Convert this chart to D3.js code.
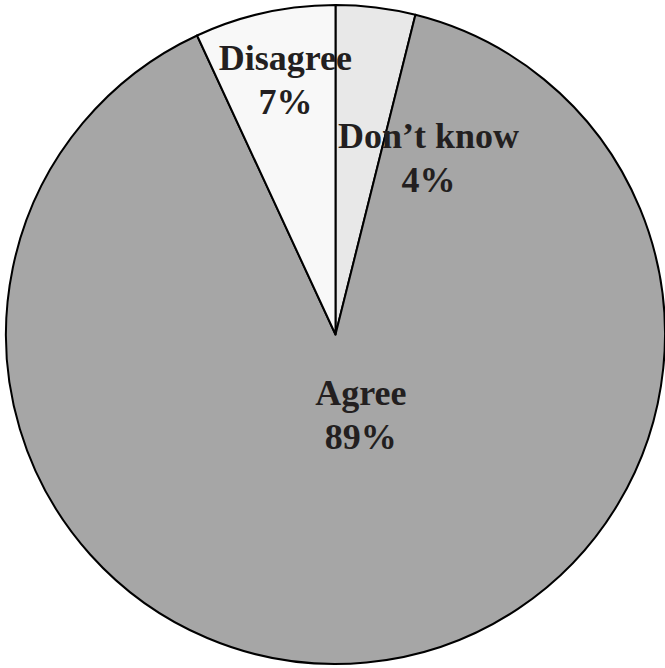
<!DOCTYPE html>
<html>
<head>
<meta charset="utf-8">
<script src="https://cdn.jsdelivr.net/npm/d3@7"></script>
<style>
  html, body { margin: 0; padding: 0; background: #fff; }
  svg { display: block; }
</style>
</head>
<body>
<div id="chart"></div>
<script>
// Données (sens horaire depuis midi)
const categories = ["Don\u2019t know", "Agree", "Disagree"];
const values = [3.9, 89.2, 6.9];
const colors = ["#e8e8e8", "#a6a6a6", "#f8f8f8"];

const width = 665, height = 668;
const cx = 335.5, cy = 334.5, radius = 329.5;

// Position des étiquettes (fraction du rayon, relative au centre)
const labelOffsets = {
  "Don\u2019t know": [0.282, -0.566],
  "Agree": [0.077, 0.214],
  "Disagree": [-0.152, -0.803]
};

const svg = d3.select('#chart')
  .append('svg')
  .attr('width', width)
  .attr('height', height);

const g = svg.append('g')
  .attr('transform', `translate(${cx},${cy})`);

const pie = d3.pie().sort(null).value(d => d.value);
const arc = d3.arc().innerRadius(0).outerRadius(radius);

const data = categories.map((c, i) => ({ name: c, value: values[i], color: colors[i] }));
const arcs = pie(data);

// Tranches
g.selectAll('.slice')
  .data(arcs)
  .enter()
  .append('path')
  .attr('class', 'slice')
  .attr('d', arc)
  .attr('fill', d => d.data.color)
  .attr('stroke', '#000')
  .attr('stroke-width', 2)
  .attr('stroke-linejoin', 'round');

// Étiquettes
const labels = g.selectAll('.label')
  .data(arcs)
  .enter()
  .append('text')
  .attr('class', 'label')
  .attr('text-anchor', 'middle')
  .attr('font-family', '"Liberation Serif", "DejaVu Serif", serif')
  .attr('font-weight', 'bold')
  .attr('font-size', '36px')
  .attr('fill', '#231f20')
  .attr('transform', d => {
    const o = labelOffsets[d.data.name];
    return `translate(${o[0] * radius},${o[1] * radius})`;
  });

labels.append('tspan')
  .attr('x', 0)
  .attr('y', 0)
  .text(d => d.data.name);

labels.append('tspan')
  .attr('x', 0)
  .attr('y', 44)
  .text(d => Math.round(d.data.value) + '%');
</script>
</body>
</html>
